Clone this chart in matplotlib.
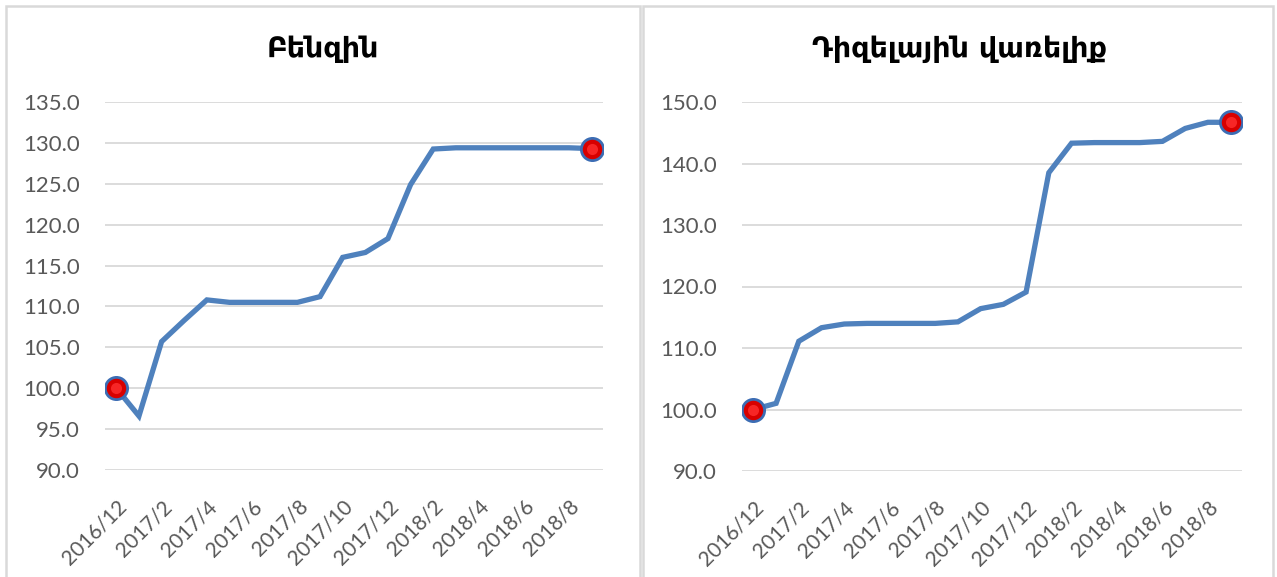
import matplotlib
matplotlib.use('Agg')
import matplotlib.pyplot as plt
import matplotlib.transforms as mtransforms
from matplotlib.patches import Rectangle
from matplotlib.ticker import FormatStrFormatter

# monthly index values, 2016/12 .. 2018/9
months = ['2016/12', '2017/1', '2017/2', '2017/3', '2017/4', '2017/5', '2017/6',
          '2017/7', '2017/8', '2017/9', '2017/10', '2017/11', '2017/12',
          '2018/1', '2018/2', '2018/3', '2018/4', '2018/5', '2018/6',
          '2018/7', '2018/8', '2018/9']
benzin = [100.0, 96.6, 105.7, 108.3, 110.8, 110.5, 110.5, 110.5, 110.5, 111.2,
          116.0, 116.6, 118.3, 124.9, 129.25, 129.4, 129.4, 129.4, 129.4,
          129.4, 129.4, 129.3]
diesel = [100.0, 101.0, 111.1, 113.3, 113.9, 114.0, 114.0, 114.0, 114.0, 114.25,
          116.4, 117.1, 119.1, 138.5, 143.3, 143.4, 143.4, 143.4, 143.6,
          145.7, 146.7, 146.7]
titles = ['Բենզին', 'Դիզելային վառելիք']
yticks_left = [90, 95, 100, 105, 110, 115, 120, 125, 130, 135]
yticks_right = [90, 100, 110, 120, 130, 140, 150]

W, H = 1277, 577
fig = plt.figure(figsize=(W / 100, H / 100), dpi=100)

# panel frames
for x0, x1 in [(6, 640), (643, 1273)]:
    fig.add_artist(Rectangle((x0 / W, -0.02), (x1 - x0) / W, 1 - 6 / H + 0.02,
                             transform=fig.transFigure, fill=False,
                             ec='#D9D9D9', lw=1.8))

panels = [
    (benzin, yticks_left, [105 / W, 1 - 470 / H, 498 / W, 368 / H], 323),
    (diesel, yticks_right, [742 / W, 1 - 471 / H, 500 / W, 369 / H], 960),
]

xs = list(range(len(months)))
for (vals, yt, rect, tx), title in zip(panels, titles):
    ax = fig.add_axes(rect)
    ax.plot(xs, vals, color='#4F81BD', lw=3.8, solid_joinstyle='miter', zorder=3)
    ax.plot([xs[0], xs[-1]], [vals[0], vals[-1]], 'o', ms=16, mfc='#D80000',
            mec='#3C6DB4', mew=2, zorder=4)
    ax.plot([xs[0], xs[-1]], [vals[0], vals[-1]], 'o', ms=8, mfc='#FF3030',
            mec='none', alpha=0.8, zorder=5)
    ax.set_xlim(-0.5, len(months) - 0.5)
    ax.set_ylim(yt[0], yt[-1])
    ax.set_yticks(yt)
    ax.yaxis.set_major_formatter(FormatStrFormatter('%.1f'))
    ax.set_xticks(xs[::2])
    ax.set_xticklabels(months[::2], rotation=45, ha='right', va='top',
                       rotation_mode='anchor')
    off = mtransforms.ScaledTranslation(5 / 100, 0, fig.dpi_scale_trans)
    for lab in ax.get_xticklabels():
        lab.set_transform(lab.get_transform() + off)
    ax.tick_params(axis='both', length=0, labelcolor='#595959')
    ax.tick_params(axis='x', pad=19, labelsize=15)
    ax.tick_params(axis='y', pad=18, labelsize=16)
    for lab in ax.get_xticklabels() + ax.get_yticklabels():
        lab.set_family(['Lato', 'DejaVu Sans'])
    ax.grid(axis='y', color='#D9D9D9', lw=1.3)
    ax.set_axisbelow(True)
    for s in ax.spines.values():
        s.set_visible(False)
    fig.text(tx / W, 1 - 49 / H, title, ha='center', va='center',
             fontsize=20.5, fontweight='bold', family=['DejaVu Sans'])

fig.savefig('out.png', dpi=100)
